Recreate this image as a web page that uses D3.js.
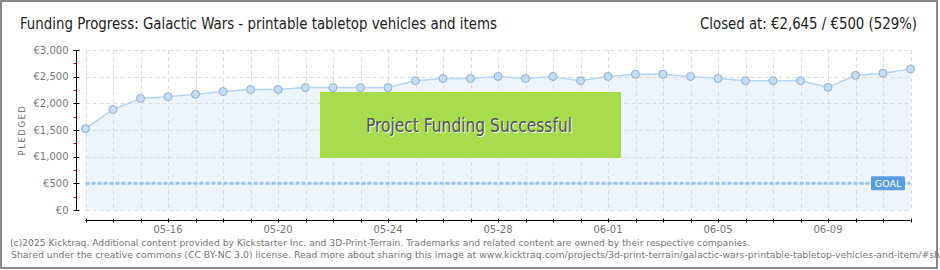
<!DOCTYPE html>
<html>
<head>
<meta charset="utf-8">
<script src="https://cdn.jsdelivr.net/npm/d3@7"></script>
<style>
  body { margin: 0; background: #fff; }
  svg { display: block; }
  .tick-label { font-family: "DejaVu Sans", Verdana, sans-serif; font-size: 10px; fill: #777; }
  .title { font-family: "DejaVu Sans Condensed", "DejaVu Sans", sans-serif; font-size: 15px; fill: #222; }
</style>
</head>
<body>
<div id="chart"></div>
<script>
// data
var dates = ["05-13","05-14","05-15","05-16","05-17","05-18","05-19","05-20","05-21","05-22",
             "05-23","05-24","05-25","05-26","05-27","05-28","05-29","05-30","05-31","06-01",
             "06-02","06-03","06-04","06-05","06-06","06-07","06-08","06-09","06-10","06-11","06-12"];
var pledged = [1525, 1885, 2090, 2125, 2170, 2220, 2260, 2260, 2295, 2295,
               2295, 2295, 2425, 2465, 2465, 2505, 2465, 2505, 2425, 2505,
               2545, 2545, 2505, 2465, 2425, 2425, 2425, 2300, 2525, 2565, 2645];
var dateLabels = ["05-16","05-20","05-24","05-28","06-01","06-05","06-09"];
var yTicks = [0, 500, 1000, 1500, 2000, 2500, 3000];
var goal = 500;

var W = 940, H = 270;
var svg = d3.select("#chart").append("svg").attr("width", W).attr("height", H);

var x = d3.scalePoint().domain(dates).range([85.5, 910.5]);
var y = d3.scaleLinear().domain([0, 3000]).range([210, 50]);
var euro = function(v) { return "\u20ac" + d3.format(",")(v); };

// outer frame
svg.append("rect").attr("x", 1).attr("y", 1).attr("width", 936).attr("height", 267)
  .attr("fill", "#fff").attr("stroke", "#888").attr("stroke-width", 2);

// titles
svg.append("text").attr("class", "title").attr("x", 20).attr("y", 29)
  .attr("textLength", 477).attr("lengthAdjust", "spacingAndGlyphs")
  .text("Funding Progress: Galactic Wars - printable tabletop vehicles and items");
svg.append("text").attr("class", "title").attr("x", 700).attr("y", 29)
  .attr("textLength", 217).attr("lengthAdjust", "spacingAndGlyphs")
  .text("Closed at: \u20ac2,645 / \u20ac500 (529%)");

// area under the line
var area = d3.area().x(function(d, i) { return x(dates[i]); }).y0(y(0)).y1(function(d) { return y(d); });
svg.append("path").datum(pledged).attr("d", area).attr("fill", "#edf4fc");

// grid
var grid = svg.append("g").attr("stroke", "#dcdcdc").attr("stroke-dasharray", "4,3").attr("stroke-width", 1);
grid.selectAll(".gx").data(dates).enter().append("line")
  .attr("x1", function(d) { return Math.round(x(d)) + 0.5; }).attr("x2", function(d) { return Math.round(x(d)) + 0.5; })
  .attr("y1", y(3000)).attr("y2", y(0));
grid.selectAll(".gy").data(yTicks).enter().append("line")
  .attr("x1", x(dates[0])).attr("x2", x(dates[dates.length - 1]))
  .attr("y1", function(d) { return Math.round(y(d)) + 0.5; }).attr("y2", function(d) { return Math.round(y(d)) + 0.5; });

// goal line
svg.append("line").attr("x1", x(dates[0])).attr("x2", x(dates[dates.length - 1]))
  .attr("y1", y(goal)).attr("y2", y(goal))
  .attr("stroke", "#9cc3ee").attr("stroke-width", 3).attr("stroke-dasharray", "4,2");

// success banner
svg.append("rect").attr("x", 320).attr("y", 92).attr("width", 301).attr("height", 66).attr("fill", "#a6dc4e");
svg.append("text").attr("x", 366).attr("y", 132)
  .style("font-family", "'DejaVu Sans Condensed', sans-serif").style("font-size", "19px")
  .attr("textLength", 206).attr("lengthAdjust", "spacingAndGlyphs")
  .attr("fill", "#f4f4f4").attr("dx", 1).attr("dy", 1)
  .text("Project Funding Successful");
svg.append("text").attr("x", 366).attr("y", 132)
  .style("font-family", "'DejaVu Sans Condensed', sans-serif").style("font-size", "19px")
  .attr("textLength", 206).attr("lengthAdjust", "spacingAndGlyphs")
  .attr("fill", "#555")
  .text("Project Funding Successful");

// pledged line + points
var line = d3.line().x(function(d, i) { return x(dates[i]); }).y(function(d) { return y(d); });
svg.append("path").datum(pledged).attr("d", line).attr("fill", "none").attr("stroke", "#b6d5f5").attr("stroke-width", 1.5);
svg.selectAll(".pt").data(pledged).enter().append("circle")
  .attr("cx", function(d, i) { return x(dates[i]); }).attr("cy", function(d) { return y(d); })
  .attr("r", 4).attr("fill", "#c3ddf7").attr("stroke", "#94afca").attr("stroke-width", 1);

// goal tag
var gt = svg.append("g").attr("transform", "translate(871," + y(goal) + ")");
gt.append("rect").attr("x", 0).attr("y", -7).attr("width", 34).attr("height", 14).attr("rx", 1.5).attr("fill", "#5b9de0");
gt.append("text").attr("x", 17).attr("y", 4).attr("text-anchor", "middle")
  .style("font-family", "'DejaVu Sans', sans-serif").style("font-size", "9.5px").attr("fill", "#fff").text("GOAL");

// y axis
var ya = svg.append("g").attr("transform", "translate(76.5,0)");
ya.append("line").attr("y1", y(3000)).attr("y2", y(0)).attr("stroke", "#000");
ya.selectAll(".minor").data(d3.range(250, 3000, 500)).enter().append("line")
  .attr("x1", -3).attr("x2", 0).attr("y1", function(d) { return Math.round(y(d)) + 0.5; }).attr("y2", function(d) { return Math.round(y(d)) + 0.5; })
  .attr("stroke", "#e00");
ya.selectAll(".major").data(yTicks).enter().append("line")
  .attr("x1", -3).attr("x2", 3).attr("y1", function(d) { return Math.round(y(d)) + 0.5; }).attr("y2", function(d) { return Math.round(y(d)) + 0.5; })
  .attr("stroke", "#000");
ya.selectAll(".lab").data(yTicks).enter().append("text").attr("class", "tick-label")
  .attr("x", -8).attr("y", function(d) { return y(d) + 3.5; }).attr("text-anchor", "end")
  .text(euro);
svg.append("text").attr("transform", "translate(25,130) rotate(-90)").attr("text-anchor", "middle")
  .style("font-family", "'DejaVu Sans', sans-serif").style("font-size", "8.5px").style("letter-spacing", "1.5px")
  .attr("fill", "#777").text("PLEDGED");

// x axis
var xa = svg.append("g").attr("transform", "translate(0,220.5)");
xa.append("line").attr("x1", x(dates[0])).attr("x2", x(dates[dates.length - 1])).attr("stroke", "#000");
xa.selectAll(".t").data(dates).enter().append("line")
  .attr("x1", function(d) { return Math.round(x(d)) + 0.5; }).attr("x2", function(d) { return Math.round(x(d)) + 0.5; })
  .attr("y1", -2).attr("y2", 2).attr("stroke", "#000");
xa.selectAll(".lab").data(dateLabels).enter().append("text").attr("class", "tick-label")
  .attr("x", function(d) { return x(d); }).attr("y", 12).attr("text-anchor", "middle").text(function(d) { return d; });

// footer
var foot = svg.append("g").style("font-family", "'DejaVu Sans', sans-serif").style("font-size", "9.2px").attr("fill", "#777");
foot.append("text").attr("x", 10).attr("y", 246)
  .attr("textLength", 740).attr("lengthAdjust", "spacingAndGlyphs")
  .text("(c)2025 Kicktraq. Additional content provided by Kickstarter Inc. and 3D-Print-Terrain. Trademarks and related content are owned by their respective companies.");
foot.append("text").attr("x", 11).attr("y", 258)
  .attr("textLength", 929).attr("lengthAdjust", "spacingAndGlyphs")
  .text("Shared under the creative commons (CC BY-NC 3.0) license. Read more about sharing this image at www.kicktraq.com/projects/3d-print-terrain/galactic-wars-printable-tabletop-vehicles-and-item/#sh");
</script>
</body>
</html>
